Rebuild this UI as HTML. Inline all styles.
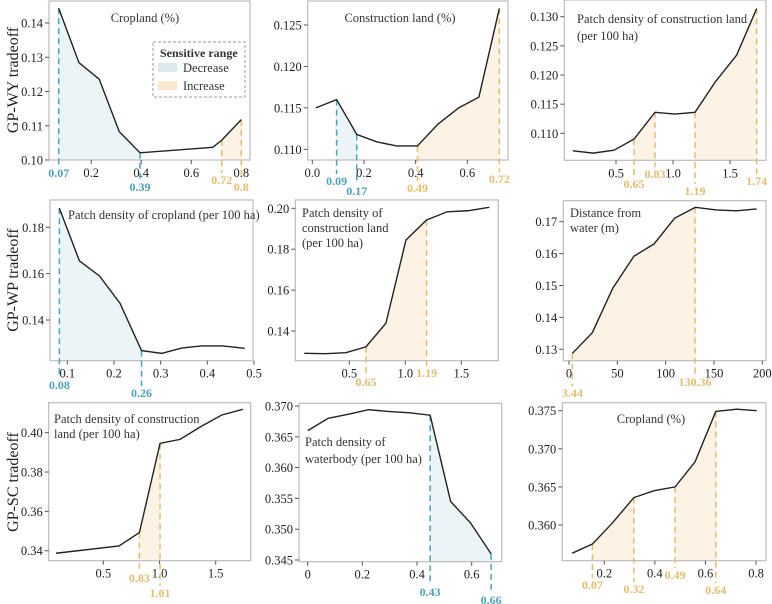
<!DOCTYPE html>
<html><head><meta charset="utf-8">
<style>
html,body{margin:0;padding:0;background:#fff;}
svg{display:block;font-family:"Liberation Serif","DejaVu Serif",serif;}
svg text{font-family:"Liberation Serif","DejaVu Serif",serif;}
</style></head>
<body>
<svg id="chart" width="772" height="604" viewBox="0 0 772 604">
<g>
<text transform="translate(18,80) rotate(-90)" text-anchor="middle" font-size="16" fill="#222">GP-WY tradeoff</text>
<text transform="translate(18,280) rotate(-90)" text-anchor="middle" font-size="16" fill="#222">GP-WP tradeoff</text>
<text transform="translate(18,482) rotate(-90)" text-anchor="middle" font-size="16" fill="#222">GP-SC tradeoff</text>
</g>
</svg>
<script>
// ---- data arrays ----
const p1X=[0.07,0.151,0.232,0.312,0.395,0.686,0.722,0.80];
const p1Y=[0.1443,0.1284,0.1236,0.1083,0.1021,0.1037,0.1058,0.1118];
const p1Cuts=[0.07,0.395,0.722,0.80];
const p1CutLabels=["0.07","0.39","0.72","0.8"];
const p1XTicks=[0.2,0.4,0.6,0.8];
const p1YTicks=[0.10,0.11,0.12,0.13,0.14];

const p2X=[0.014,0.094,0.172,0.249,0.327,0.407,0.485,0.567,0.645,0.724];
const p2Y=[0.1150,0.1160,0.1118,0.1109,0.1104,0.1104,0.1130,0.1150,0.1163,0.1270];
const p2Cuts=[0.094,0.172,0.407,0.724];
const p2CutLabels=["0.09","0.17","0.49","0.72"];
const p2XTicks=[0.0,0.2,0.4,0.6];
const p2YTicks=[0.110,0.115,0.120,0.125];

const p3X=[0.122,0.30,0.482,0.658,0.842,1.018,1.193,1.374,1.558,1.734];
const p3Y=[0.1070,0.1066,0.1071,0.1090,0.1136,0.1133,0.1136,0.1189,0.1234,0.1314];
const p3Cuts=[0.658,0.842,1.193,1.734];
const p3CutLabels=["0.65","0.83","1.19","1.74"];
const p3XTicks=[0.5,1.0,1.5];
const p3YTicks=[0.110,0.115,0.120,0.125,0.130];

const p4X=[0.083,0.126,0.169,0.213,0.259,0.302,0.345,0.387,0.433,0.480];
const p4Y=[0.1882,0.1655,0.1590,0.1472,0.1268,0.1256,0.1279,0.1288,0.1288,0.1278];
const p4Cuts=[0.083,0.259];
const p4CutLabels=["0.08","0.26"];
const p4XTicks=[0.1,0.2,0.3,0.4,0.5];
const p4YTicks=[0.14,0.16,0.18];

const p5X=[0.098,0.286,0.470,0.649,0.827,1.006,1.19,1.374,1.558,1.749];
const p5Y=[0.1291,0.1289,0.1294,0.1323,0.1438,0.1845,0.1943,0.1983,0.1988,0.2005];
const p5Cuts=[0.649,1.19];
const p5CutLabels=["0.65","1.19"];
const p5XTicks=[0.5,1.0,1.5];
const p5YTicks=[0.14,0.16,0.18,0.20];

const p6X=[3.4,24.1,45.2,67.2,87.9,109.3,130.7,152.1,173.5,194.2];
const p6Y=[0.1287,0.1352,0.1491,0.1592,0.1630,0.1711,0.1745,0.1737,0.1734,0.1740];
const p6Cuts=[3.44,130.36];
const p6CutLabels=["3.44","130.36"];
const p6XTicks=[0,50,100,150,200];
const p6YTicks=[0.13,0.14,0.15,0.16,0.17];

const p7X=[0.079,0.640,0.821,1.005,1.183,1.367,1.554,1.741];
const p7Y=[0.3387,0.3424,0.3492,0.3946,0.3966,0.4031,0.4090,0.4119];
const p7Cuts=[0.821,1.005];
const p7CutLabels=["0.83","1.01"];
const p7XTicks=[0.5,1.0,1.5];
const p7YTicks=[0.34,0.36,0.38,0.40];

const p8X=[0,0.075,0.152,0.222,0.301,0.374,0.448,0.523,0.596,0.671];
const p8Y=[0.3660,0.3680,0.3687,0.3694,0.3691,0.3689,0.3685,0.3545,0.3510,0.3460];
const p8Cuts=[0.448,0.671];
const p8CutLabels=["0.43","0.66"];
const p8XTicks=[0,0.2,0.4,0.6];
const p8YTicks=[0.345,0.350,0.355,0.360,0.365,0.370];

const p9X=[0.073,0.153,0.233,0.317,0.397,0.480,0.559,0.641,0.724,0.803];
const p9Y=[0.3563,0.3575,0.3603,0.3636,0.3645,0.3650,0.3683,0.3749,0.3752,0.3750];
const p9Cuts=[0.153,0.317,0.480,0.641];
const p9CutLabels=["0.07","0.32","0.49","0.64"];
const p9XTicks=[0.2,0.4,0.6,0.8];
const p9YTicks=[0.360,0.365,0.370,0.375];

// ---- layout (pixels & styles) ----
const BLUE='#4aa2bb', ORANGE='#e3bd6e', BLUEF='#ebf4f6', ORANGEF='#fdf3e4';
const panels=[
 {id:'cropland-wy',box:[49,1,250,160],xc:[0.07,58.7,0.8,241.3],yc:[0.14,23,0.10,160],xs:p1X,ys:p1Y,cuts:p1Cuts,cl:p1CutLabels,cc:[BLUE,BLUE,ORANGE,ORANGE],cly:[177,191,184,191],shades:[[0,1,BLUEF],[2,3,ORANGEF]],xt:p1XTicks,xtf:v=>v.toFixed(1),yt:p1YTicks,ytf:v=>v.toFixed(2),title:['Cropland (%)'],tx:145,ty:[22],anchor:'middle'},
 {id:'construction-wy',box:[307.7,1,508,160],xc:[0,312.3,0.6,467.3],yc:[0.125,25,0.110,149.3],xs:p2X,ys:p2Y,cuts:p2Cuts,cl:p2CutLabels,cc:[BLUE,BLUE,ORANGE,ORANGE],cly:[185,195,192,183],shades:[[0,1,BLUEF],[2,3,ORANGEF]],xt:p2XTicks,xtf:v=>v.toFixed(1),yt:p2YTicks,ytf:v=>v.toFixed(3),title:['Construction land (%)'],tx:400,ty:[22],anchor:'middle'},
 {id:'pd-construction-wy',box:[564.3,0,766,160.3],xc:[0.5,616,1.5,730],yc:[0.130,16.7,0.110,133.3],xs:p3X,ys:p3Y,cuts:p3Cuts,cl:p3CutLabels,cc:[ORANGE,ORANGE,ORANGE,ORANGE],cly:[188,178,195,185],shades:[[0,1,ORANGEF],[2,3,ORANGEF]],xt:p3XTicks,xtf:v=>v.toFixed(1),yt:p3YTicks,ytf:v=>v.toFixed(3),title:['Patch density of construction land','(per 100 ha)'],tx:577,ty:[23,40],anchor:'start'},
 {id:'pd-cropland-wp',box:[50,200,253,360.7],xc:[0.1,67.3,0.5,254],yc:[0.18,227.3,0.14,320],xs:p4X,ys:p4Y,cuts:p4Cuts,cl:p4CutLabels,cc:[BLUE,BLUE],cly:[389,397],shades:[[0,1,BLUEF]],xt:p4XTicks,xtf:v=>v.toFixed(1),yt:p4YTicks,ytf:v=>v.toFixed(2),title:['Patch density of cropland (per 100 ha)'],tx:68,ty:[219],anchor:'start'},
 {id:'pd-construction-wp',box:[295.3,200,498.3,360.7],xc:[0.5,349.3,1.5,461.3],yc:[0.20,208.3,0.14,331],xs:p5X,ys:p5Y,cuts:p5Cuts,cl:p5CutLabels,cc:[ORANGE,ORANGE],cly:[386,377],shades:[[0,1,ORANGEF]],xt:p5XTicks,xtf:v=>v.toFixed(1),yt:p5YTicks,ytf:v=>v.toFixed(2),title:['Patch density of','construction land','(per 100 ha)'],tx:302,ty:[217,232,247],anchor:'start'},
 {id:'distance-water-wp',box:[563.3,200.7,766,360.7],xc:[0,569,200,762.3],yc:[0.17,221.7,0.13,349.3],xs:p6X,ys:p6Y,cuts:p6Cuts,cl:p6CutLabels,cc:[ORANGE,ORANGE],cly:[397,386],shades:[[0,1,ORANGEF]],xt:p6XTicks,xtf:v=>String(v),yt:p6YTicks,ytf:v=>v.toFixed(2),title:['Distance from','water (m)'],tx:570,ty:[217,232],anchor:'start'},
 {id:'pd-construction-sc',box:[48.7,402.7,250.7,560.7],xc:[0.5,103.3,1.5,215.7],yc:[0.40,432.7,0.34,550.7],xs:p7X,ys:p7Y,cuts:p7Cuts,cl:p7CutLabels,cc:[ORANGE,ORANGE],cly:[582,597],shades:[[0,1,ORANGEF]],xt:p7XTicks,xtf:v=>v.toFixed(1),yt:p7YTicks,ytf:v=>v.toFixed(2),title:['Patch density of construction','land (per 100 ha)'],tx:54,ty:[423,438],anchor:'start'},
 {id:'pd-waterbody-sc',box:[299,403.3,501.7,561.7],xc:[0,307.7,0.6,471.7],yc:[0.370,406,0.345,560],xs:p8X,ys:p8Y,cuts:p8Cuts,cl:p8CutLabels,cc:[BLUE,BLUE],cly:[596,604],shades:[[0,1,BLUEF]],xt:p8XTicks,xtf:v=>v===0?'0':v.toFixed(1),yt:p8YTicks,ytf:v=>v.toFixed(3),title:['Patch density of','waterbody (per 100 ha)'],tx:305,ty:[446,463],anchor:'start'},
 {id:'cropland-sc',box:[562.3,402.7,766,560.7],xc:[0.2,604.3,0.8,756],yc:[0.375,410.7,0.360,525],xs:p9X,ys:p9Y,cuts:p9Cuts,cl:p9CutLabels,cc:[ORANGE,ORANGE,ORANGE,ORANGE],cly:[589,593,579,594],shades:[[0,1,ORANGEF],[2,3,ORANGEF]],xt:p9XTicks,xtf:v=>v.toFixed(1),yt:p9YTicks,ytf:v=>v.toFixed(3),title:['Cropland (%)'],tx:651,ty:[423],anchor:'middle'}
];
const NS='http://www.w3.org/2000/svg';
const FONT='"Liberation Serif","DejaVu Serif",serif';
const svg=document.getElementById('chart');
function mk(tag,attrs,parent){const e=document.createElementNS(NS,tag);for(const k in attrs)e.setAttribute(k,attrs[k]);if(tag==='text')e.setAttribute('font-family',FONT);(parent||svg).appendChild(e);return e;}
function lin(c){return v=>c[1]+(v-c[0])*(c[3]-c[1])/(c[2]-c[0]);}
function interp(xs,ys,x){
  if(x<=xs[0])return ys[0];
  for(let i=1;i<xs.length;i++){if(x<=xs[i]){const t=(x-xs[i-1])/(xs[i]-xs[i-1]);return ys[i-1]+t*(ys[i]-ys[i-1]);}}
  return ys[ys.length-1];
}
panels.forEach(p=>{
  const sx=lin(p.xc), sy=lin(p.yc);
  const [l,t,r,b]=p.box;
  const g=mk('g',{});
  
  
  p.shades.forEach(s=>{
    const a=p.cuts[s[0]], c=p.cuts[s[1]];
    const pts=[[a,interp(p.xs,p.ys,a)]];
    p.xs.forEach((x,i)=>{if(x>a&&x<c)pts.push([x,p.ys[i]]);});
    pts.push([c,interp(p.xs,p.ys,c)]);
    let d='M'+sx(a)+','+b;
    pts.forEach(q=>{d+=' L'+sx(q[0])+','+sy(q[1]);});
    d+=' L'+sx(c)+','+b+' Z';
    const sh=mk('path',{d:d,fill:s[2],stroke:'none'},g);
    
    
  });
  const fr=mk('rect',{x:l,y:t,width:r-l,height:b-t,fill:'none',stroke:'#bcbcbc','stroke-width':1.2},g);
  
  
  p.yt.forEach(v=>{
    const y=sy(v);
    mk('line',{x1:l-4,x2:l,y1:y,y2:y,stroke:'#555','stroke-width':1},g);
    const tx=mk('text',{x:l-6,y:y+4.5,'text-anchor':'end','font-size':12.5,fill:'#222'},g);
    tx.textContent=p.ytf(v);
    
    
  });
  p.xt.forEach(v=>{
    const x=sx(v);
    mk('line',{x1:x,x2:x,y1:b,y2:b+4,stroke:'#555','stroke-width':1},g);
    const tx=mk('text',{x:x,y:b+17,'text-anchor':'middle','font-size':12.5,fill:'#222'},g);
    tx.textContent=p.xtf(v);
    
    
  });
  p.cuts.forEach((c,i)=>{
    const x=sx(c), yv=sy(interp(p.xs,p.ys,c));
    const ln=mk('line',{x1:x,x2:x,y1:yv,y2:p.cly[i]-11,stroke:p.cc[i],'stroke-width':1.5,'stroke-dasharray':'6,4'},g);
    
    
    const tx=mk('text',{x:x,y:p.cly[i],'text-anchor':'middle','font-size':12,'font-weight':'bold',fill:p.cc[i]},g);
    tx.textContent=p.cl[i];
    
    
  });
  const line=mk('polyline',{points:p.xs.map((x,i)=>sx(x)+','+sy(p.ys[i])).join(' '),fill:'none',stroke:'#222','stroke-width':1.4},g);
  
  
  p.title.forEach((s,i)=>{
    const tx=mk('text',{x:p.tx,y:p.ty[i],'text-anchor':p.anchor,'font-size':12.5,fill:'#333'},g);
    tx.textContent=s;
    
    
  });
});
const lg=mk('g',{});


mk('rect',{x:153,y:42,width:92,height:55,fill:'#fff',stroke:'#999','stroke-dasharray':'3,2','stroke-width':1},lg);
const lt=mk('text',{x:160,y:57,'font-size':12,'font-weight':'bold',fill:'#333'},lg);
lt.textContent='Sensitive range';


const l1=mk('rect',{x:158,y:63,width:19,height:9,fill:'#d9e9ee'},lg);


const t1=mk('text',{x:183,y:72,'font-size':12.5,fill:'#333'},lg);
t1.textContent='Decrease';


const l2=mk('rect',{x:158,y:81,width:19,height:9,fill:'#fbe8cf'},lg);


const t2=mk('text',{x:183,y:90,'font-size':12.5,fill:'#333'},lg);
t2.textContent='Increase';


</script>
</body></html>
